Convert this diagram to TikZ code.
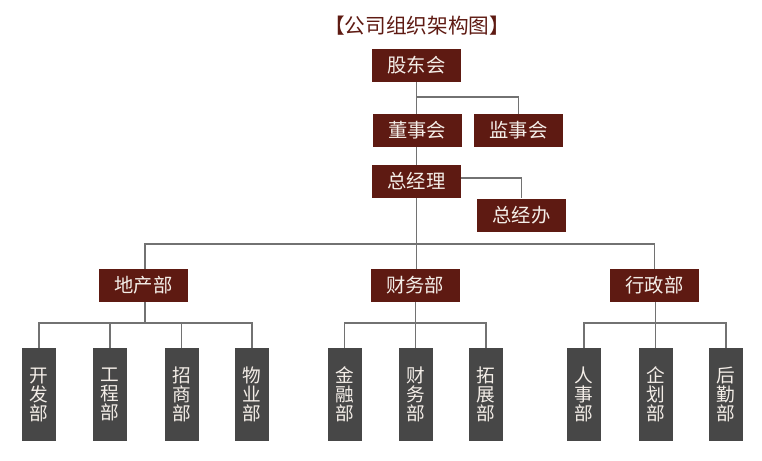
\documentclass[tikz,border=0pt]{standalone}
\usepackage{fontspec}
\newfontfamily\cjk{Noto Sans CJK SC}
\definecolor{boxred}{HTML}{5E1A12}
\definecolor{boxgray}{HTML}{474747}
\definecolor{linegray}{HTML}{727272}
\definecolor{txtw}{HTML}{F4EEE8}
\begin{document}
\begin{tikzpicture}[x=0.75pt,y=-0.75pt,
  redbox/.style={fill=boxred,draw=none,minimum width=66.75pt,minimum height=24.75pt,inner sep=0pt,text=txtw,font=\cjk\fontsize{14.5}{16}\selectfont},
  graybox/.style={fill=boxgray,draw=none,minimum width=25.5pt,minimum height=69.75pt,inner sep=0pt,text=txtw,align=center,font=\cjk\fontsize{14}{14.25}\selectfont},
  conn/.style={draw=linegray,line width=0.9pt}]
\useasboundingbox (0,0) rectangle (762,460);
\node[text=boxred,font=\cjk\fontsize{15.5}{17}\selectfont] (title) at (417,26) {【公司组织架构图】};
\node[redbox] (gd) at (416.5,65.5) {股东会};
\node[redbox] (dsh) at (417,130.5) {董事会};
\node[redbox] (jsh) at (518.5,130.5) {监事会};
\node[redbox] (zjl) at (416.5,181.5) {总经理};
\node[redbox] (zjb) at (521.5,215) {总经办};
\node[redbox] (dc) at (143.5,285.5) {地产部};
\node[redbox] (cw) at (415,285.5) {财务部};
\node[redbox] (xz) at (654.5,285.5) {行政部};
\node[graybox] (k1) at (39,394.5) {开\\发\\部};
\node[graybox] (k2) at (110,394.5) {工\\程\\部};
\node[graybox] (k3) at (181.5,394.5) {招\\商\\部};
\node[graybox] (k4) at (252,394.5) {物\\业\\部};
\node[graybox] (c1) at (344.5,394.5) {金\\融\\部};
\node[graybox] (c2) at (415.5,394.5) {财\\务\\部};
\node[graybox] (c3) at (486,394.5) {拓\\展\\部};
\node[graybox] (x1) at (584,394.5) {人\\事\\部};
\node[graybox] (x2) at (655.5,394.5) {企\\划\\部};
\node[graybox] (x3) at (726,394.5) {后\\勤\\部};
\coordinate (b1) at (416.5,97);
\coordinate (b2) at (416.5,244);
\coordinate (db) at (145,323);
\coordinate (cb) at (415.5,323);
\coordinate (xb) at (655.5,323);
\path[conn] (gd.south) -- (gd.south |- dsh.north);
\path[conn] (b1) -| (jsh.north);
\path[conn] (dsh.south -| gd.south) -- (zjl.north);
\path[conn] ([yshift=2.6pt]zjl.east) -| (zjb.north);
\path[conn] (zjl.south) -- (b2);
\path[conn] (dc.north -| db) |- (b2) -| (xz.north);
\path[conn] (b2) -- (cw.north -| b2);
\path[conn] (dc.south -| db) -- (db);
\path[conn] (k1.north) |- (db) -| (k4.north);
\path[conn] (k2.north) -- (k2.north |- db);
\path[conn] (k3.north) -- (k3.north |- db);
\path[conn] (cw.south -| cb) -- (cb);
\path[conn] (c1.north) |- (cb) -| (c3.north);
\path[conn] (c2.north) -- (cb);
\path[conn] (xz.south -| xb) -- (xb);
\path[conn] (x1.north) |- (xb) -| (x3.north);
\path[conn] (x2.north) -- (xb);
\end{tikzpicture}
\end{document}
